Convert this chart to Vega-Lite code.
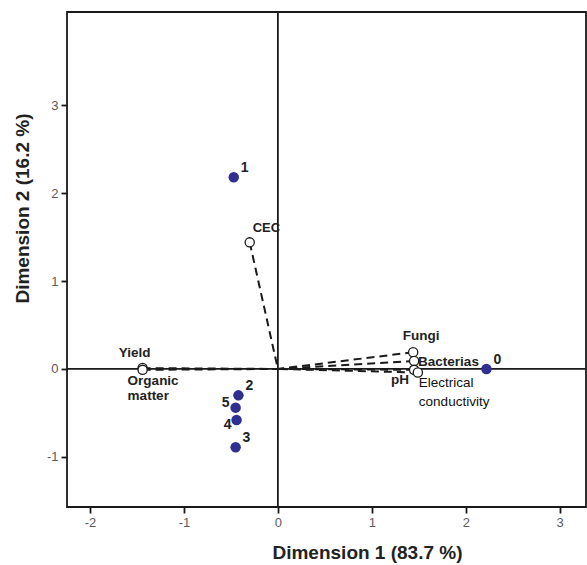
{
  "$schema": "https://vega.github.io/schema/vega-lite/v6.json",
  "width": 519,
  "height": 495,
  "autosize": {"type": "none"},
  "padding": {"left": 67, "top": 12, "right": 1, "bottom": 58},
  "background": "white",
  "config": {
    "view": {"stroke": "#1a1a1a", "strokeWidth": 1.8},
    "font": "Liberation Sans",
    "axis": {
      "grid": false,
      "domain": false,
      "tickColor": "#1a1a1a",
      "tickWidth": 1.8,
      "tickSize": 6,
      "labelColor": "#5a5a5a",
      "labelFontSize": 13,
      "labelFont": "Liberation Sans",
      "titleFont": "Liberation Sans",
      "titleFontSize": 19,
      "titleFontWeight": "bold",
      "titleColor": "#222222"
    }
  },
  "datasets": {
    "points": [
      {"id": "0", "x": 2.22, "y": 0.0},
      {"id": "1", "x": -0.47, "y": 2.18},
      {"id": "2", "x": -0.42, "y": -0.30},
      {"id": "3", "x": -0.45, "y": -0.89},
      {"id": "4", "x": -0.44, "y": -0.58},
      {"id": "5", "x": -0.45, "y": -0.44}
    ],
    "vars": [
      {"name": "Yield", "label": "Yield", "x": -1.44, "y": 0.01},
      {"name": "Organic matter", "label": "Organic\nmatter", "x": -1.44, "y": -0.01},
      {"name": "CEC", "label": "CEC", "x": -0.30, "y": 1.44},
      {"name": "Fungi", "label": "Fungi", "x": 1.44, "y": 0.19},
      {"name": "Bacterias", "label": "Bacterias", "x": 1.45, "y": 0.09},
      {"name": "pH", "label": "pH", "x": 1.45, "y": -0.01},
      {"name": "Electrical conductivity", "label": "Electrical\nconductivity", "x": 1.49, "y": -0.04}
    ]
  },
  "layer": [
    {
      "data": {"name": "vars"},
      "mark": {"type": "rule", "strokeDash": [8, 5], "strokeWidth": 2, "color": "#1a1a1a"},
      "encoding": {
        "x": {"field": "x", "type": "quantitative",
          "scale": {"domain": [-2.245, 3.28], "nice": false, "zero": false},
          "axis": {"values": [-2, -1, 0, 1, 2, 3], "labelExpr": "'' + datum.value", "title": "Dimension 1 (83.7 %)", "labelPadding": 3, "titleX": 300, "titleY": 45, "titleBaseline": "middle", "titleAnchor": "middle"}},
        "y": {"field": "y", "type": "quantitative",
          "scale": {"domain": [-1.57, 4.06], "nice": false, "zero": false},
          "axis": {"values": [-1, 0, 1, 2, 3], "labelExpr": "'' + datum.value", "title": "Dimension 2 (16.2 %)", "labelPadding": 3, "titleX": -45, "titleY": 196, "titleBaseline": "middle", "titleAnchor": "middle"}},
        "x2": {"datum": 0},
        "y2": {"datum": 0}
      }
    },
    {
      "data": {"values": [{}]},
      "mark": {"type": "rule", "color": "#1a1a1a", "strokeWidth": 1.8},
      "encoding": {"x": {"datum": 0, "type": "quantitative"}}
    },
    {
      "data": {"values": [{}]},
      "mark": {"type": "rule", "color": "#1a1a1a", "strokeWidth": 1.8},
      "encoding": {"y": {"datum": 0, "type": "quantitative"}}
    },
    {
      "data": {"name": "vars"},
      "mark": {"type": "point", "shape": "circle", "filled": true, "fill": "white", "stroke": "#1a1a1a", "strokeWidth": 1.3, "size": 85, "opacity": 1},
      "encoding": {
        "x": {"field": "x", "type": "quantitative"},
        "y": {"field": "y", "type": "quantitative"}
      }
    },
    {
      "data": {"name": "points"},
      "mark": {"type": "point", "shape": "circle", "filled": true, "color": "#2e2f8f", "size": 110, "opacity": 1},
      "encoding": {
        "x": {"field": "x", "type": "quantitative"},
        "y": {"field": "y", "type": "quantitative"}
      }
    },
    {
      "data": {"name": "points"},
      "transform": [{"filter": "datum.id == '0' || datum.id == '1' || datum.id == '2' || datum.id == '3'"}],
      "mark": {"type": "text", "align": "left", "baseline": "middle", "dx": 7, "dy": -9, "fontSize": 14, "fontWeight": "bold", "color": "#222222"},
      "encoding": {
        "x": {"field": "x", "type": "quantitative"},
        "y": {"field": "y", "type": "quantitative"},
        "text": {"field": "id"}
      }
    },
    {
      "data": {"name": "points"},
      "transform": [{"filter": "datum.id == '5'"}],
      "mark": {"type": "text", "align": "right", "baseline": "middle", "dx": -6, "dy": -5, "fontSize": 14, "fontWeight": "bold", "color": "#222222"},
      "encoding": {
        "x": {"field": "x", "type": "quantitative"},
        "y": {"field": "y", "type": "quantitative"},
        "text": {"field": "id"}
      }
    },
    {
      "data": {"name": "points"},
      "transform": [{"filter": "datum.id == '4'"}],
      "mark": {"type": "text", "align": "right", "baseline": "middle", "dx": -5, "dy": 5, "fontSize": 14, "fontWeight": "bold", "color": "#222222"},
      "encoding": {
        "x": {"field": "x", "type": "quantitative"},
        "y": {"field": "y", "type": "quantitative"},
        "text": {"field": "id"}
      }
    },
    {
      "data": {"name": "vars"},
      "transform": [{"filter": "datum.name == 'Yield'"}],
      "mark": {"type": "text", "align": "center", "baseline": "middle", "dx": -8, "dy": -15, "fontSize": 13.5, "fontWeight": "bold", "color": "#222222"},
      "encoding": {
        "x": {"field": "x", "type": "quantitative"},
        "y": {"field": "y", "type": "quantitative"},
        "text": {"field": "label"}
      }
    },
    {
      "data": {"name": "vars"},
      "transform": [{"filter": "datum.name == 'Organic matter'"}],
      "mark": {"type": "text", "align": "left", "baseline": "top", "dx": -15, "dy": 4, "lineBreak": "\n", "lineHeight": 15, "fontSize": 13.5, "fontWeight": "bold", "color": "#222222"},
      "encoding": {
        "x": {"field": "x", "type": "quantitative"},
        "y": {"field": "y", "type": "quantitative"},
        "text": {"field": "label"}
      }
    },
    {
      "data": {"name": "vars"},
      "transform": [{"filter": "datum.name == 'CEC'"}],
      "mark": {"type": "text", "align": "left", "baseline": "middle", "dx": 3, "dy": -14, "fontSize": 13, "fontWeight": "bold", "color": "#222222"},
      "encoding": {
        "x": {"field": "x", "type": "quantitative"},
        "y": {"field": "y", "type": "quantitative"},
        "text": {"field": "label"}
      }
    },
    {
      "data": {"name": "vars"},
      "transform": [{"filter": "datum.name == 'Fungi'"}],
      "mark": {"type": "text", "align": "center", "baseline": "middle", "dx": 8, "dy": -16, "fontSize": 13.5, "fontWeight": "bold", "color": "#222222"},
      "encoding": {
        "x": {"field": "x", "type": "quantitative"},
        "y": {"field": "y", "type": "quantitative"},
        "text": {"field": "label"}
      }
    },
    {
      "data": {"name": "vars"},
      "transform": [{"filter": "datum.name == 'Bacterias'"}],
      "mark": {"type": "text", "align": "left", "baseline": "middle", "dx": 4, "dy": 1, "fontSize": 13.5, "fontWeight": "bold", "color": "#222222"},
      "encoding": {
        "x": {"field": "x", "type": "quantitative"},
        "y": {"field": "y", "type": "quantitative"},
        "text": {"field": "label"}
      }
    },
    {
      "data": {"name": "vars"},
      "transform": [{"filter": "datum.name == 'pH'"}],
      "mark": {"type": "text", "align": "right", "baseline": "middle", "dx": -5, "dy": 10, "fontSize": 13.5, "fontWeight": "bold", "color": "#222222"},
      "encoding": {
        "x": {"field": "x", "type": "quantitative"},
        "y": {"field": "y", "type": "quantitative"},
        "text": {"field": "label"}
      }
    },
    {
      "data": {"name": "vars"},
      "transform": [{"filter": "datum.name == 'Electrical conductivity'"}],
      "mark": {"type": "text", "align": "left", "baseline": "top", "dx": 1, "dy": 4, "lineBreak": "\n", "lineHeight": 19, "fontSize": 13.5, "color": "#111111"},
      "encoding": {
        "x": {"field": "x", "type": "quantitative"},
        "y": {"field": "y", "type": "quantitative"},
        "text": {"field": "label"}
      }
    }
  ]
}
